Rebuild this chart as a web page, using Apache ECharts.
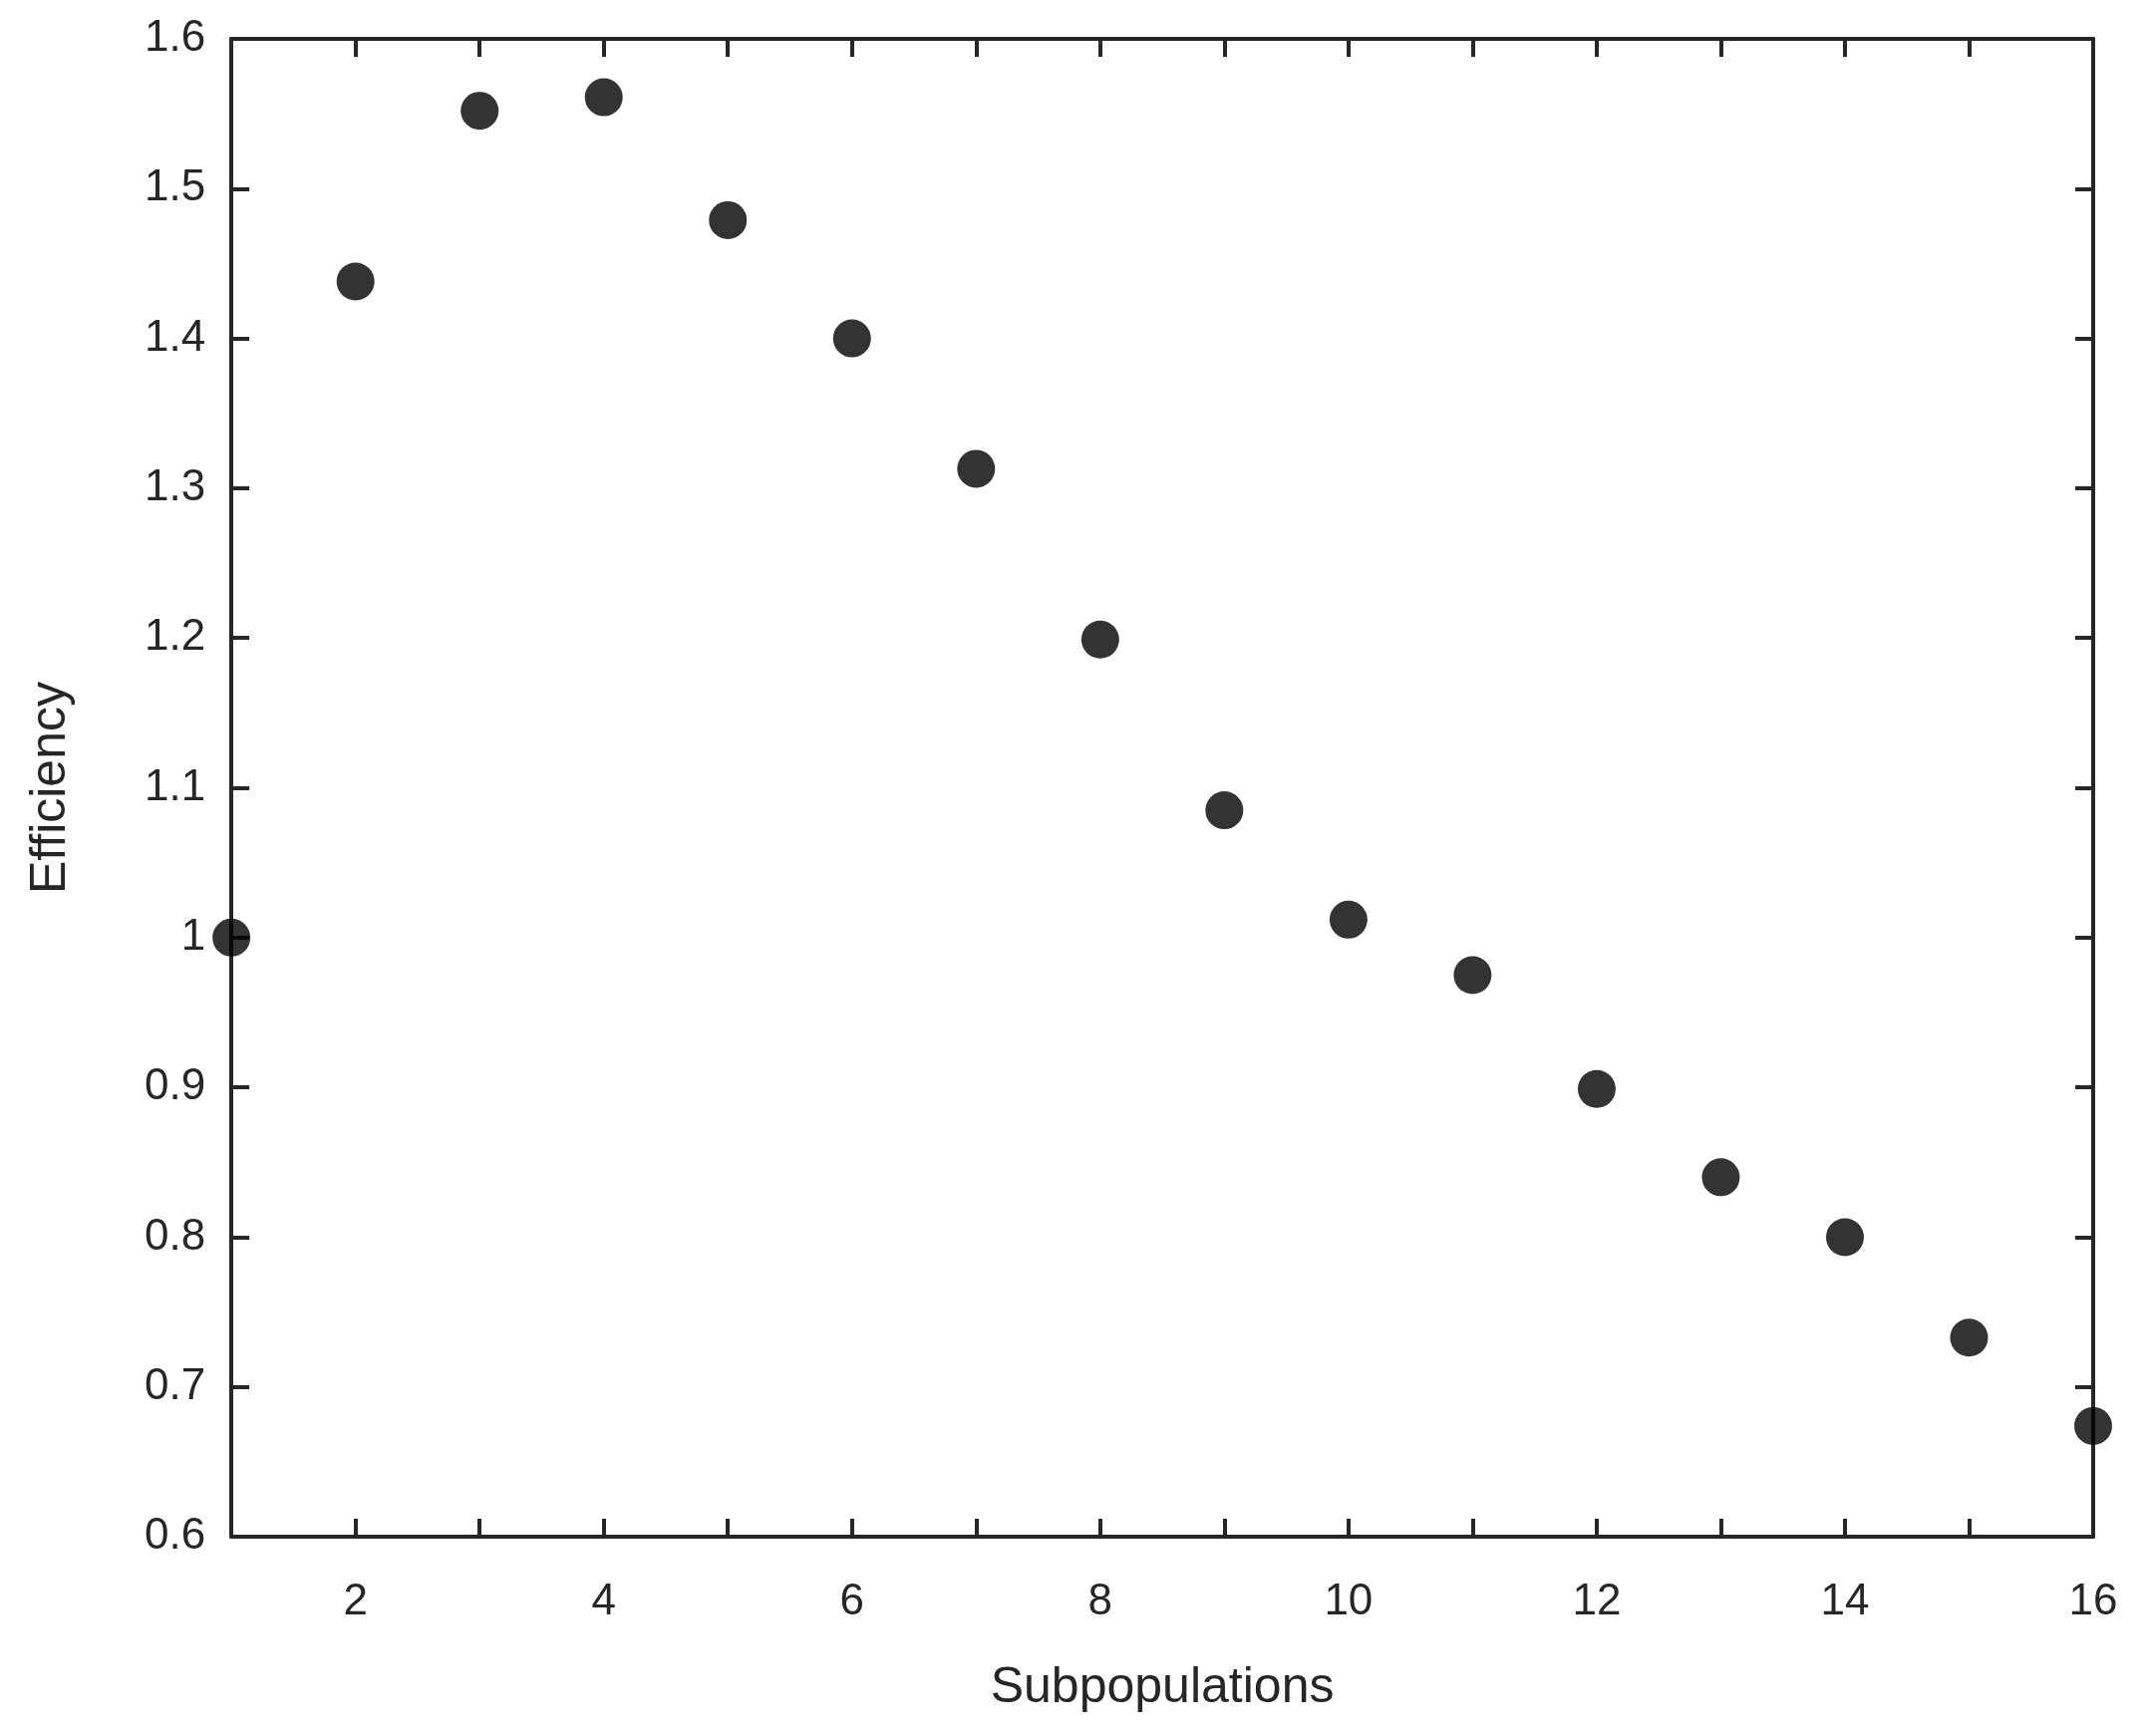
<!DOCTYPE HTML>
<html>
<head>
<script src="https://cdn.jsdelivr.net/npm/echarts@6.0.0/dist/echarts.min.js"></script>
<style>html,body{margin:0;background:#fff}#chart{width:2156px;height:1742px}</style>
</head>
<body>
<div id="chart"></div>
<script>
const subpopulations = [1,2,3,4,5,6,7,8,9,10,11,12,13,14,15,16];
const efficiency = [1.0,1.438,1.552,1.561,1.479,1.40,1.313,1.199,1.085,1.012,0.975,0.899,0.840,0.800,0.733,0.674];

var chart = echarts.init(document.getElementById('chart'));
var axisColor = '#262626';
var font = 'Arial, Liberation Sans, sans-serif';
var lineStyle = {color: axisColor, width: 4};
var options = {
	animation: false,
	grid: {left: 210, right: 56, top: 39, bottom: 183},
	xAxis: [{
		type: 'value', min: 1, max: 16, interval: 1,
		name: 'Subpopulations', nameLocation: 'middle', nameGap: 100,
		nameTextStyle: {fontSize: 50, color: axisColor, fontFamily: font},
		axisLine: {lineStyle: lineStyle},
		axisTick: {inside: true, length: 18, lineStyle: lineStyle, interval: 0},
		axisLabel: {fontSize: 44, color: axisColor, fontFamily: font, margin: 28,
			formatter: function (v) { return v % 2 === 0 ? String(v) : ''; }},
		splitLine: {show: false}
	}, {
		type: 'value', min: 1, max: 16, interval: 1, position: 'top',
		axisLine: {lineStyle: lineStyle},
		axisTick: {inside: true, length: 18, lineStyle: lineStyle},
		axisLabel: {show: false}, splitLine: {show: false}
	}],
	yAxis: [{
		type: 'value', min: 0.6, max: 1.6, interval: 0.1,
		name: 'Efficiency', nameLocation: 'middle', nameGap: 138,
		nameTextStyle: {fontSize: 50, color: axisColor, fontFamily: font},
		axisLine: {lineStyle: lineStyle},
		axisTick: {inside: true, length: 18, lineStyle: lineStyle},
		axisLabel: {fontSize: 44, color: axisColor, fontFamily: font, margin: 26,
			formatter: function (v) { return Math.abs(v - 1) < 1e-9 ? '1' : v.toFixed(1); }},
		splitLine: {show: false}
	}, {
		type: 'value', min: 0.6, max: 1.6, interval: 0.1, position: 'right',
		axisLine: {lineStyle: lineStyle},
		axisTick: {inside: true, length: 18, lineStyle: lineStyle},
		axisLabel: {show: false}, splitLine: {show: false}
	}],
	series: [{
		type: 'scatter', symbol: 'circle', symbolSize: 38,
		itemStyle: {color: '#000'},
		data: subpopulations.map(function (x, i) { return [x, efficiency[i]]; })
	}]
};
chart.setOption(options);
</script>
</body>
</html>
